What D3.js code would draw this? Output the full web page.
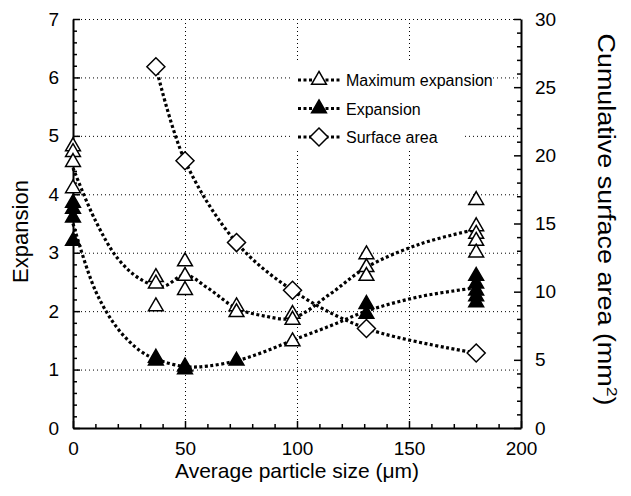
<!DOCTYPE html>
<html><head><meta charset="utf-8">
<script src="https://cdn.jsdelivr.net/npm/d3@7"></script>
<style>body{margin:0;background:#fff}svg{font-family:"Liberation Sans",Arial,sans-serif}</style>
</head><body><svg id="c" width="631" height="496"></svg>
<script>
// ---- data ----
const maxExpX = [0,0,0,0, 37,37,37, 50,50,50, 73,73, 98,98,98, 131,131,131, 180,180,180,180,180];
const maxExpY = [4.82,4.72,4.55,4.1, 2.58,2.47,2.08, 2.85,2.6,2.36, 2.08,1.98, 1.95,1.85,1.48, 2.97,2.75,2.6, 3.9,3.45,3.32,3.2,3.0];
const expX = [0,0,0,0, 37,37, 50,50, 73, 131,131, 180,180,180,180,180];
const expY = [3.85,3.75,3.6,3.2, 1.2,1.15, 1.05,1.0, 1.15, 2.12,1.95, 2.6,2.47,2.35,2.25,2.15];
const areaX = [37,50,73,98,131,180];
const areaY = [26.5,19.6,13.6,10.1,7.3,5.5];
const maxFitX = [0,10,20,30,40,50,60,73,85,98,115,131,155,180];
const maxFitY = [4.45,3.55,2.9,2.55,2.42,2.62,2.4,2.05,1.92,1.88,2.3,2.75,3.15,3.4];
const expFitX = [0,10,20,30,37,50,60,73,85,98,115,131,155,180];
const expFitY = [3.5,2.35,1.7,1.32,1.18,1.05,1.06,1.15,1.3,1.5,1.75,2.0,2.25,2.4];
const xTicks = [0,50,100,150,200];
const yTicks = [0,1,2,3,4,5,6,7];
const y2Ticks = [0,5,10,15,20,25,30];
const legendLabels = ["Maximum expansion","Expansion","Surface area"];

const svg = d3.select("#c");
const L=73, R=521, T=19, B=428;
const x = d3.scaleLinear().domain([0,200]).range([L,R]);
const y = d3.scaleLinear().domain([0,7]).range([B,T]);
const y2 = d3.scaleLinear().domain([0,30]).range([B,T]);

// gridlines
const grid = svg.append("g").attr("stroke","#000").attr("stroke-width",1).attr("stroke-dasharray","1,3");
grid.selectAll("line.h").data(yTicks.slice(1)).join("line")
  .attr("x1",L).attr("x2",R).attr("y1",d=>y(d)+0.5).attr("y2",d=>y(d)+0.5);
grid.selectAll("line.v").data(xTicks.slice(1,-1)).join("line")
  .attr("x1",d=>x(d)+0.5).attr("x2",d=>x(d)+0.5).attr("y1",T).attr("y2",B);

// axes
function styleAxis(g){
  g.selectAll("text").attr("font-size","19px").attr("fill","#000");
  g.select(".domain").attr("stroke","#000").attr("stroke-width",2);
  g.selectAll(".tick line").attr("stroke","#000").attr("stroke-width",1.5);
}
const fmt = d3.format("d");
svg.append("g").attr("transform",`translate(0,${B})`)
  .call(d3.axisBottom(x).tickValues(d3.range(0,201,10)).tickFormat(d=>xTicks.includes(d)?fmt(d):"")
    .tickSizeInner(-4).tickSizeOuter(0).tickPadding(14))
  .call(g=>g.selectAll(".tick").filter(d=>xTicks.includes(d)).select("line").attr("y2",-7))
  .call(styleAxis);
svg.append("g").attr("transform",`translate(${L},0)`)
  .call(d3.axisLeft(y).tickValues(d3.range(0,36).map(i=>i*0.2)).tickFormat(d=>{const r=Math.round(d*5)/5;return yTicks.includes(r)&&Math.abs(r-Math.round(r))<1e-6?fmt(Math.round(r)):"";})
    .tickSizeInner(-4).tickSizeOuter(0).tickPadding(14))
  .call(g=>g.selectAll(".tick").filter(d=>Math.abs(d-Math.round(d))<1e-6).select("line").attr("x2",7))
  .call(styleAxis);
svg.append("g").attr("transform",`translate(${R},0)`)
  .call(d3.axisRight(y2).tickValues(d3.range(0,31)).tickFormat(d=>y2Ticks.includes(d)?fmt(d):"")
    .tickSizeInner(-4).tickSizeOuter(0).tickPadding(14))
  .call(g=>g.selectAll(".tick").filter(d=>y2Ticks.includes(d)).select("line").attr("x2",-7))
  .call(styleAxis);

// titles
svg.append("text").attr("x",(L+R)/2).attr("y",478).attr("text-anchor","middle").attr("font-size","21px")
  .text("Average particle size (\u03bcm)");
svg.append("text").attr("transform",`translate(28,${(T+B)/2+8}) rotate(-90)`).attr("text-anchor","middle").attr("font-size","22px")
  .text("Expansion");
const rt = svg.append("text").attr("transform",`translate(598,${(T+B)/2-4}) rotate(90)`).attr("text-anchor","middle").attr("font-size","23px")
  .attr("textLength",372).attr("lengthAdjust","spacingAndGlyphs");
rt.append("tspan").text("Cumulative surface area (mm");
rt.append("tspan").attr("font-size","15px").attr("dy",-9).text("2");
rt.append("tspan").attr("dy",9).text(")");

// fit curves
const lineStyle = g=>g.attr("fill","none").attr("stroke","#000").attr("stroke-width",3.2).attr("stroke-dasharray","3,2.5");
const mk = (xs,ys,sc)=>d3.line().x((d,i)=>x(xs[i])).y((d,i)=>sc(ys[i])).curve(d3.curveCatmullRom.alpha(0.5))(xs);
svg.append("path").attr("d",mk(maxFitX,maxFitY,y)).call(lineStyle);
svg.append("path").attr("d",mk(expFitX,expFitY,y)).call(lineStyle);
svg.append("path").attr("d",mk(areaX,areaY,y2)).call(lineStyle);

// markers
const tri = d3.symbol().type(d3.symbolTriangle).size(95);
const dia = d=>"M0,-9L9,0L0,9L-9,0Z";
svg.append("g").selectAll("path").data(maxExpX).join("path")
  .attr("transform",(d,i)=>`translate(${x(d)},${y(maxExpY[i])})`).attr("d",tri())
  .attr("fill","#fff").attr("stroke","#000").attr("stroke-width",1.5);
svg.append("g").selectAll("path").data(expX).join("path")
  .attr("transform",(d,i)=>`translate(${x(d)},${y(expY[i])})`).attr("d",tri())
  .attr("fill","#000").attr("stroke","#000").attr("stroke-width",1.5);
svg.append("g").selectAll("path").data(areaX).join("path")
  .attr("transform",(d,i)=>`translate(${x(d)},${y2(areaY[i])})`).attr("d",dia)
  .attr("fill","#fff").attr("stroke","#000").attr("stroke-width",1.5);

// legend
const lg = svg.append("g");
lg.append("rect").attr("x",292).attr("y",62).attr("width",172).attr("height",88).attr("fill","#fff");
legendLabels.forEach((lab,i)=>{
  const cy = 80 + i*28.5;
  lg.append("line").attr("x1",298).attr("x2",340).attr("y1",cy).attr("y2",cy)
    .attr("stroke","#000").attr("stroke-width",3).attr("stroke-dasharray","3,2.5");
  if(i<2) lg.append("path").attr("transform",`translate(319,${cy})`).attr("d",tri())
    .attr("fill",i===0?"#fff":"#000").attr("stroke","#000").attr("stroke-width",1.5);
  else lg.append("path").attr("transform",`translate(319,${cy})`).attr("d",dia)
    .attr("fill","#fff").attr("stroke","#000").attr("stroke-width",1.5);
  lg.append("text").attr("x",346).attr("y",cy+6).attr("font-size","16px").text(lab);
});
</script></body></html>
